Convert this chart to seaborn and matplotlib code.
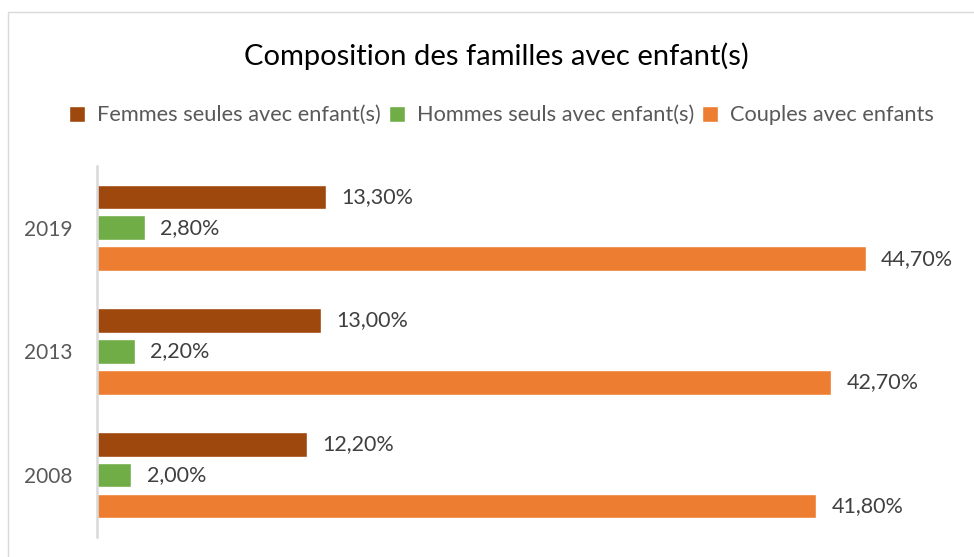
import pandas as pd
import seaborn as sns
import matplotlib.pyplot as plt
from matplotlib.patches import Rectangle

# data
years = ["2019", "2013", "2008"]
series = ["Femmes seules avec enfant(s)", "Hommes seuls avec enfant(s)", "Couples avec enfants"]
femmes = [13.3, 13.0, 12.2]
hommes = [2.8, 2.2, 2.0]
couples = [44.7, 42.7, 41.8]
colors = ["#9E480E", "#70AD47", "#ED7D31"]

df = pd.DataFrame({
    "annee": years * 3,
    "serie": [series[0]] * 3 + [series[1]] * 3 + [series[2]] * 3,
    "valeur": femmes + hommes + couples,
})

sns.set_theme(style="white")
plt.rcParams['font.family'] = ['Lato', 'DejaVu Sans']

fig = plt.figure(figsize=(9.74, 5.57), dpi=100)
ax = fig.add_axes([0.0996, 0.036, 0.883, 0.666])

sns.barplot(data=df, y="annee", x="valeur", hue="serie", order=years, hue_order=series,
            palette=colors, saturation=1, orient="h", width=0.75, gap=0.2, ax=ax, legend=True)

for cont in ax.containers:
    ax.bar_label(cont, labels=[f"{v:.2f}%".replace(".", ",") for v in cont.datavalues],
                 padding=11, fontsize=15.5, color="#404040")

ax.set_xlim(0, 50)
ax.set_ylim(2.5, -0.5)
ax.set_xlabel("")
ax.set_ylabel("")
ax.set_xticks([])
ax.tick_params(axis="y", length=0, labelsize=15, labelcolor="#595959", pad=18)
for s in ["top", "right", "bottom"]:
    ax.spines[s].set_visible(False)
ax.spines["left"].set_color("#D9D9D9")
ax.spines["left"].set_linewidth(1.8)

handles, labels = ax.get_legend_handles_labels()
ax.legend(handles, labels, loc="center", bbox_to_anchor=(0.515, 0.793), bbox_transform=fig.transFigure,
          ncol=3, frameon=False, fontsize=15.7, labelcolor="#595959", handlelength=0.75,
          handleheight=0.75, handletextpad=0.55, columnspacing=0.35)

fig.text(0.51, 0.9, "Composition des familles avec enfant(s)", ha="center", va="center",
         fontsize=21, color="#000000")

fig.patches.append(Rectangle((8 / 974, -0.01), 1.0, 1 - 12 / 557 + 0.01, transform=fig.transFigure,
                             fill=False, edgecolor="#D9D9D9", linewidth=1))

fig.savefig("out.png", dpi=100)
